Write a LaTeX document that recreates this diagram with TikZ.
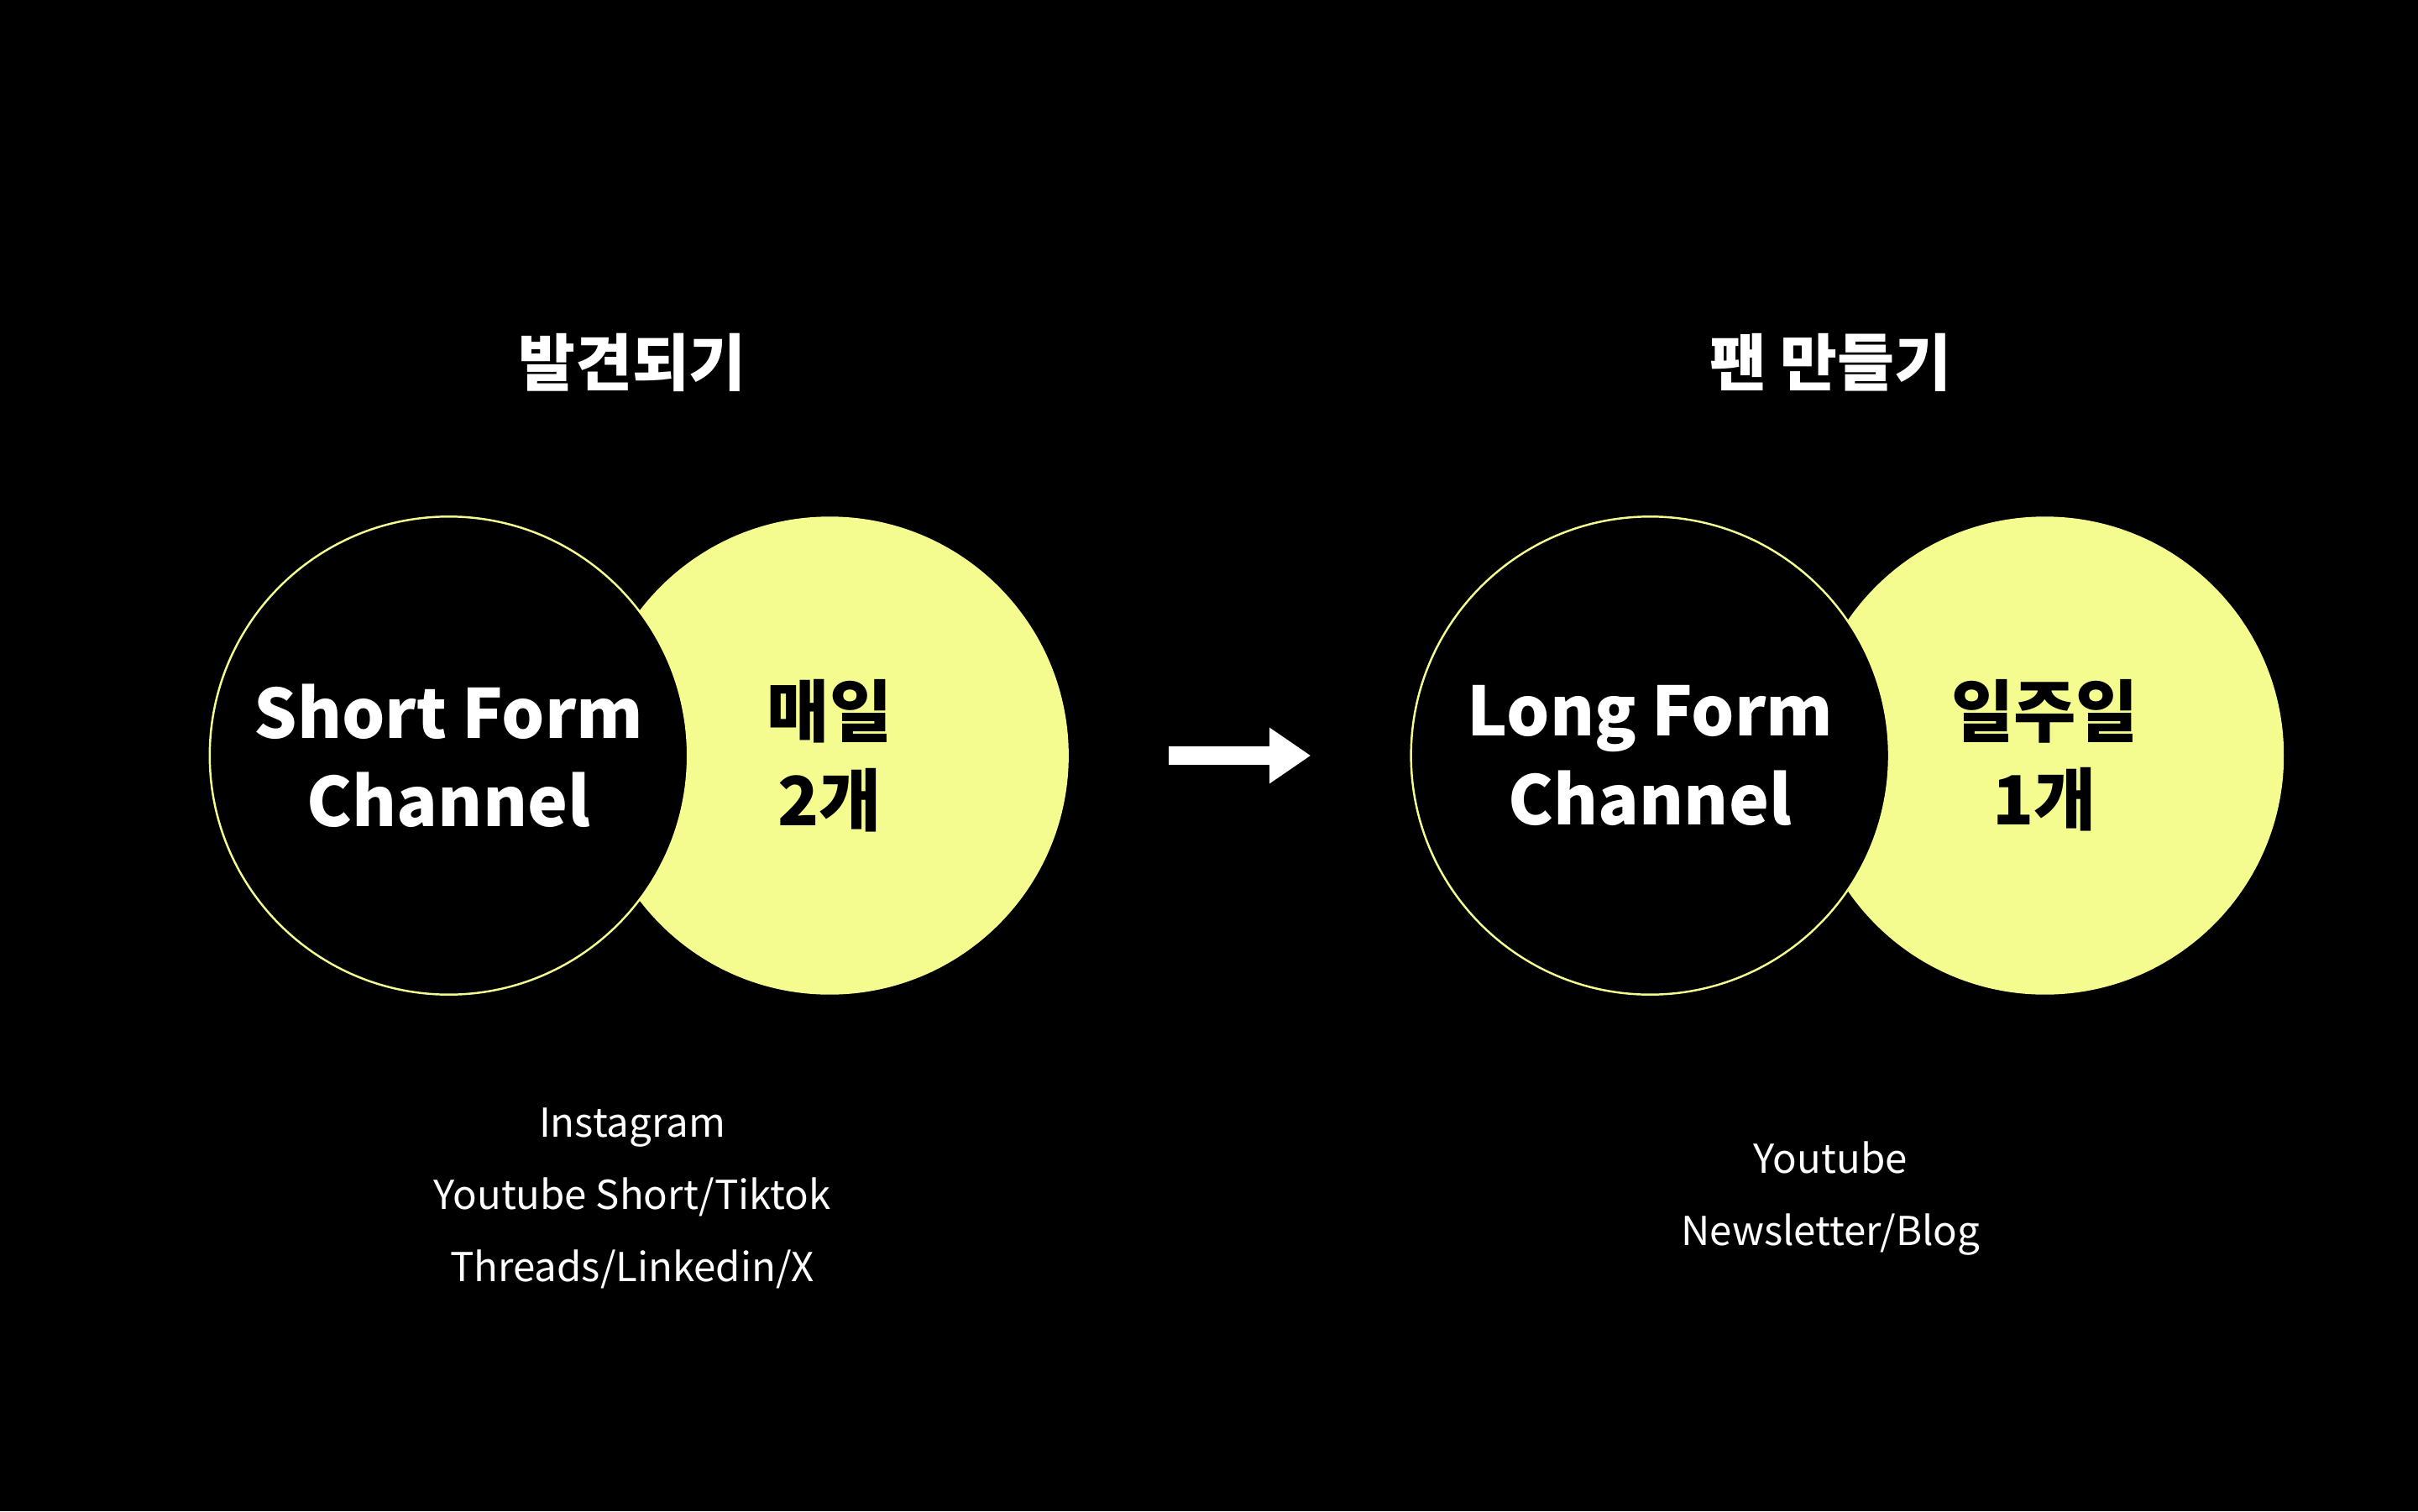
\documentclass[tikz,border=0pt]{standalone}
\usepackage{fontspec}
\setmainfont{Noto Sans CJK KR}
\usetikzlibrary{positioning,arrows.meta}
\definecolor{lemon}{HTML}{F5FC8F}
\begin{document}
\begin{tikzpicture}[
        x=0.018367cm, y=-0.018367cm,
        ring/.style={circle, minimum size=310*0.018367cm, inner sep=0pt},
        blackring/.style={ring, fill=black, draw=lemon, line width=0.7pt},
        yellowring/.style={ring, fill=lemon},
        head/.style={text=white, font=\bfseries\fontsize{21}{25}\selectfont},
        big/.style={align=center, font=\bfseries\fontsize{23}{30}\selectfont},
        list/.style={text=white, align=center, font=\fontsize{13.5}{24.5}\selectfont},
    ]
    \fill[black] (0,0) rectangle (1568,980);
    \useasboundingbox (0,0) rectangle (1568,980);

    % left group
    \node[head] (findT) at (410,235) {발견되기};
    \node[yellowring] (dailyC) at (538,490) {};
    \node[blackring] (shortC) at (291,490) {};
    \node[big, text=white] (shortT) at (291,490) {Short Form\\Channel};
    \node[big, text=black] (dailyT) at (538,490) {매일\\2개};
    \node[list] (shortL) at (410,777) {Instagram\\Youtube Short/Tiktok\\Threads/Linkedin/X};

    % right group
    \node[head] (fanT) at (1187,235) {팬 만들기};
    \node[yellowring] (weekC) at (1326,490) {};
    \node[blackring] (longC) at (1070,490) {};
    \node[big, text=white] (longT) at (1070,490) {Long Form\\Channel};
    \node[big, text=black] (weekT) at (1326,490) {일주일\\1개};
    \node[list] (longL) at (1187,777) {Youtube\\Newsletter/Blog};

    % arrow
    \coordinate (arrS) at (758,490);
    \coordinate (arrE) at (850,490);
    \draw[white, line width=6pt, -{Triangle[length=14pt, width=18pt]}] (arrS) -- (arrE);
\end{tikzpicture}
\end{document}
